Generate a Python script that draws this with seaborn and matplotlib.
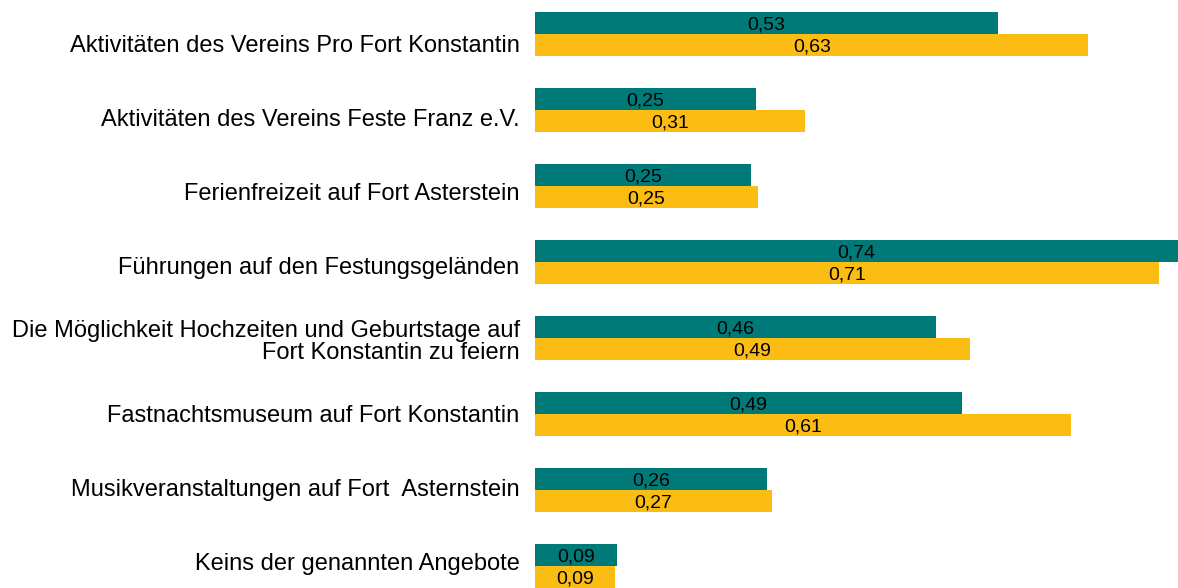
import matplotlib
matplotlib.use("Agg")
import matplotlib.pyplot as plt
import seaborn as sns
import pandas as pd

categories = [
    "Aktivitäten des Vereins Pro Fort Konstantin",
    "Aktivitäten des Vereins Feste Franz e.V.",
    "Ferienfreizeit auf Fort Asterstein",
    "Führungen auf den Festungsgeländen",
    "Die Möglichkeit Hochzeiten und Geburtstage auf\nFort Konstantin zu feiern",
    "Fastnachtsmuseum auf Fort Konstantin",
    "Musikveranstaltungen auf Fort  Asternstein",
    "Keins der genannten Angebote",
]
series_names = ["Serie 1", "Serie 2"]
# bar lengths
values_1 = [0.532, 0.254, 0.248, 0.739, 0.461, 0.491, 0.267, 0.094]
values_2 = [0.636, 0.310, 0.256, 0.717, 0.500, 0.616, 0.272, 0.092]
# printed labels
labels_1 = ["0,53", "0,25", "0,25", "0,74", "0,46", "0,49", "0,26", "0,09"]
labels_2 = ["0,63", "0,31", "0,25", "0,71", "0,49", "0,61", "0,27", "0,09"]
colors = ["#007A78", "#FBBD13"]

df = pd.DataFrame({
    "Angebot": categories * 2,
    "Serie": [series_names[0]] * len(categories) + [series_names[1]] * len(categories),
    "Wert": values_1 + values_2,
})

sns.set_style("white")
plt.rcParams['font.family'] = ['Liberation Sans', 'DejaVu Sans']

fig = plt.figure(figsize=(11.78, 5.88), dpi=100)
ax = fig.add_axes([535 / 1178, 0, 1 - 535 / 1178, 1])

sns.barplot(data=df, y="Angebot", x="Wert", hue="Serie", orient="h",
            palette=colors, width=0.58, dodge=True, legend=False, ax=ax,
            saturation=1, linewidth=0)

for cont, labs in zip(ax.containers, [labels_1, labels_2]):
    texts = ax.bar_label(cont, labels=labs, label_type="center", fontsize=14, color="black")
    for t in texts:
        t.xyann = (0, -1.5)  # nudge down a little, like the original

ax.set_xlim(0, 0.739)
ax.set_ylim(7 + 0.29, -0.447)
ax.set_xlabel("")
ax.set_ylabel("")
ax.set_xticks([])
# category labels sit slightly off the group centres in the original
n = len(categories)
ax.set_yticks([i + (10 - 2 * i) / 76 for i in range(n)])
ax.set_yticklabels(categories, fontsize=17, color="black", linespacing=1.0)
ax.tick_params(axis="y", length=0, pad=11)
sns.despine(ax=ax, left=True, bottom=True)

fig.savefig("out.png", dpi=100)
